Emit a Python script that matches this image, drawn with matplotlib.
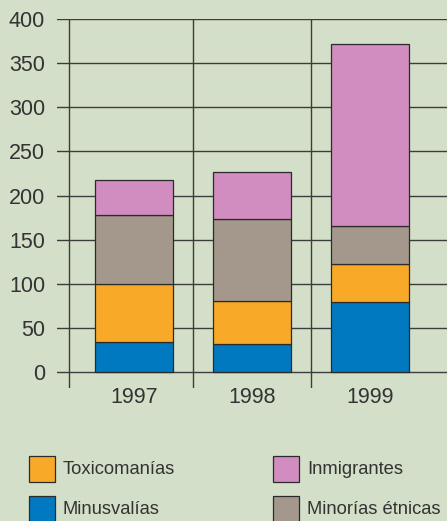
import matplotlib
matplotlib.use("Agg")
import matplotlib.pyplot as plt
from matplotlib.patches import Rectangle

# data
years = ["1997", "1998", "1999"]
minusvalias = [34, 32, 79]
toxicomanias = [66, 48, 43]
minorias = [78, 93, 43]
inmigrantes = [40, 54, 207]

series = [minusvalias, toxicomanias, minorias, inmigrantes]
colors = ["#0079c1", "#f9a928", "#a4978b", "#d18cc0"]
y_ticks = [0, 50, 100, 150, 200, 250, 300, 350, 400]

bg = "#d3dfc8"
ink = "#333333"
num_font = ["Liberation Sans", "DejaVu Sans"]
leg_font = ["Liberation Sans Narrow", "Liberation Sans", "DejaVu Sans"]

fig = plt.figure(figsize=(4.47, 5.21), dpi=100, facecolor=bg)
ax = fig.add_axes([57 / 447, 1 - 388 / 521, 1 - 57 / 447, (388 - 19) / 521])
ax.set_facecolor(bg)

x = list(range(len(years)))
bottom = [0] * len(years)
for vals, c in zip(series, colors):
    ax.bar(x, vals, width=0.66, bottom=bottom, color=c,
           edgecolor="#2b2b2b", linewidth=0.9, zorder=3)
    bottom = [b + v for b, v in zip(bottom, vals)]

# grid lines
for t in y_ticks:
    ax.axhline(t, color="#3c3c3c", linewidth=1.0, zorder=1)
for sep in [-0.55, 0.5, 1.5]:
    ax.axvline(sep, color="#3c3c3c", linewidth=1.0, zorder=1)

ax.set_xlim(-0.653, 2.653)
ax.set_ylim(-18, 400)
ax.set_yticks(y_ticks)
ax.set_yticklabels([str(t) for t in y_ticks], family=num_font, fontsize=15.5, color=ink)
ax.set_xticks(x)
ax.set_xticklabels(years, family=num_font, fontsize=15.5, color=ink)
ax.tick_params(axis="y", length=0, pad=8.6)
ax.tick_params(axis="x", length=0, pad=-1)
for s in ax.spines.values():
    s.set_visible(False)

# legend, laid out by hand
leg_labels = ["Toxicomanías", "Minusvalías", "Inmigrantes", "Minorías étnicas"]
leg_colors = [colors[1], colors[0], colors[3], colors[2]]
leg_pos = [(29, 456), (29, 496), (273, 456), (273, 496)]
for lab, c, (px, py) in zip(leg_labels, leg_colors, leg_pos):
    fig.add_artist(Rectangle((px / 447, 1 - (py + 26) / 521), 26 / 447, 26 / 521,
                             transform=fig.transFigure, facecolor=c,
                             edgecolor="#2b2b2b", linewidth=0.9))
    fig.text((px + 34) / 447, 1 - (py + 13) / 521, lab, family=leg_font,
             fontsize=13.2, color=ink, va="center", ha="left")

fig.savefig("out.png", dpi=100, facecolor=bg)
